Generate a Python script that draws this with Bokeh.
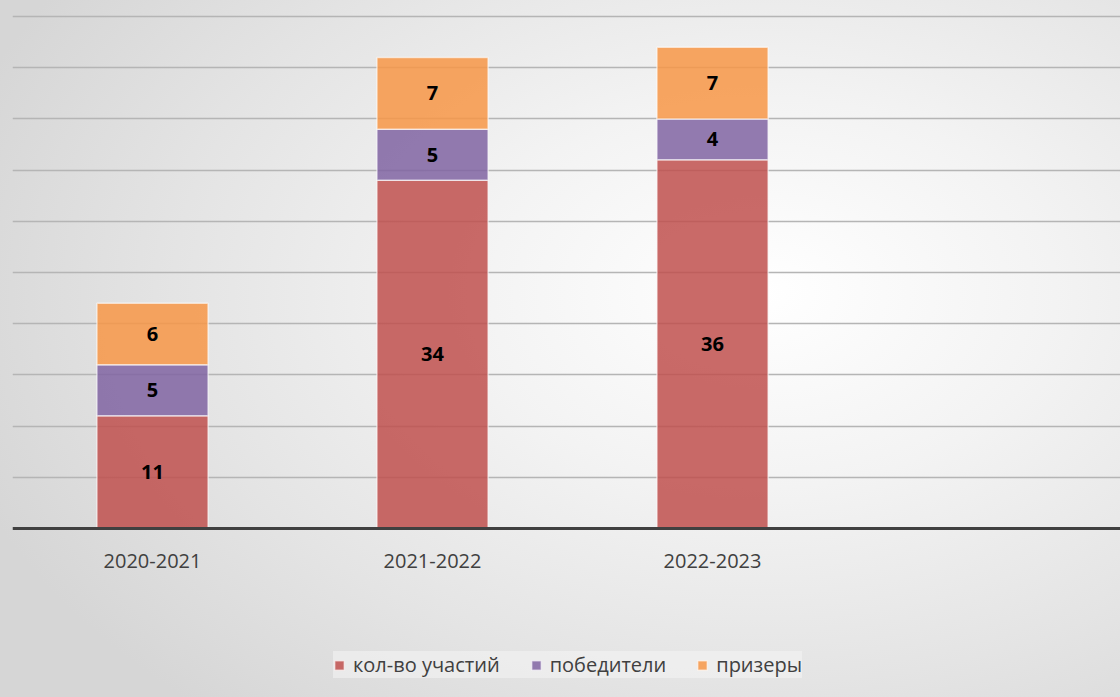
from bokeh.plotting import figure
from bokeh.models import (ColumnDataSource, FixedTicker, Legend, LegendItem,
                          LabelSet, Range1d, Span)
from bokeh.core.properties import value
from bokeh.embed import file_html
from bokeh.resources import INLINE

years = ["2020-2021", "2021-2022", "2022-2023"]
participants = [11, 34, 36]
winners = [5, 5, 4]
prizers = [6, 7, 7]
series_names = ["кол-во участий", "победители", "призеры"]
colors = ["#c0504d", "#8064a2", "#f79646"]

xpos = [i + 0.5 for i in range(len(years))]
src = ColumnDataSource(dict(x=xpos, years=years, p=participants, w=winners, z=prizers))

p = figure(width=1120, height=697, output_backend="svg", toolbar_location=None,
           x_range=Range1d(0, 3.957), y_range=Range1d(-16.50, 51.56),
           min_border_left=12, min_border_right=0, min_border_top=0,
           min_border_bottom=0)
p.border_fill_color = None
p.background_fill_color = None
p.outline_line_color = None
p.styles = {"background": "radial-gradient(ellipse 75% 80% at 68% 42%, #ffffff 0%, #f3f3f3 35%, #e4e4e4 70%, #d6d6d6 100%)"}
p.xaxis.visible = False
p.yaxis.visible = False

p.ygrid.ticker = FixedTicker(ticks=list(range(5, 55, 5)))
p.ygrid.grid_line_color = "#b5b5b5"
p.ygrid.grid_line_width = 1.5
p.xgrid.visible = False

rs = p.vbar_stack(["p", "w", "z"], x="x", width=0.397, source=src,
                  color=colors, fill_alpha=0.85, line_color="white",
                  line_alpha=0.6, line_width=1.5)

# baseline (category axis line)
p.add_layout(Span(location=0, dimension="width", line_color="#404040", line_width=3))

# category labels under the axis
p.add_layout(LabelSet(x="x", y=0, text="years", source=src, text_align="center",
                      text_baseline="middle", y_offset=-32,
                      text_font=value("Open Sans"), text_font_size="20px",
                      text_color="#404040"))

# value labels at segment middles
mid_p = [v / 2 for v in participants]
mid_w = [a + b / 2 for a, b in zip(participants, winners)]
mid_z = [a + b + c / 2 for a, b, c in zip(participants, winners, prizers)]
lab = ColumnDataSource(dict(
    x=xpos * 3,
    y=mid_p + mid_w + mid_z,
    t=[str(v) for v in participants + winners + prizers],
))
p.add_layout(LabelSet(x="x", y="y", text="t", source=lab, text_align="center",
                      text_baseline="middle", text_font=value("Open Sans"),
                      text_font_style="bold", text_font_size="20px",
                      text_color="black"))

legend = Legend(items=[LegendItem(label=n, renderers=[r]) for n, r in zip(series_names, rs)],
                orientation="horizontal", location=(321, 19),
                label_text_font="Open Sans", label_text_font_size="20px",
                label_text_color="#404040", glyph_width=12, glyph_height=12,
                label_standoff=8, spacing=30, padding=14,
                background_fill_color="#f4f4f4", background_fill_alpha=0.6,
                border_line_color=None, margin=0)
p.add_layout(legend, "center")

open("out.html", "w").write(file_html(p, INLINE))
